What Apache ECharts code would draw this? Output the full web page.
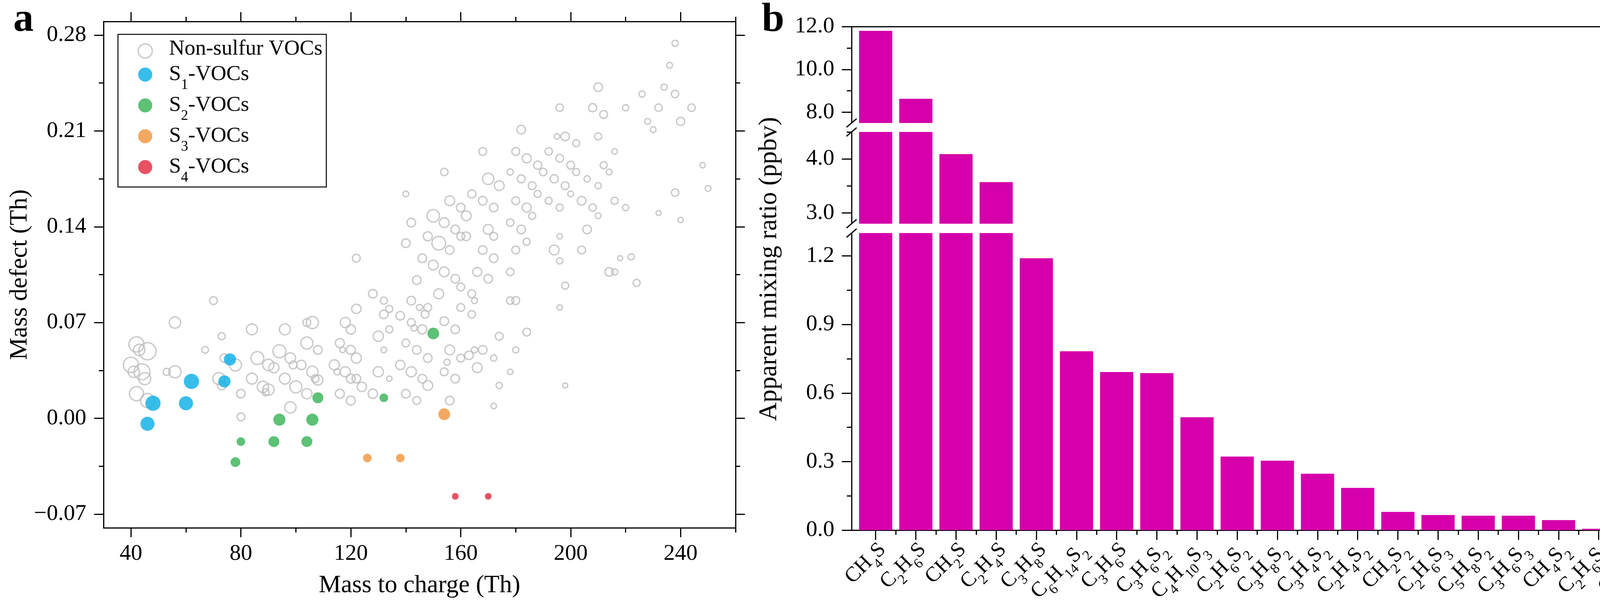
<!DOCTYPE html>
<html lang="en">
<head>
<meta charset="UTF-8">
<title>Sulfur VOCs</title>
<script src="https://cdn.jsdelivr.net/npm/echarts@6/dist/echarts.min.js"></script>
<style>
  html, body { margin: 0; padding: 0; background: #fff; }
  #main { width: 4276px; height: 1560px; }
</style>
</head>
<body>
<div id="main"></div>
<script>
// ---- panel a: [mass to charge, mass defect, relative signal size]
const nonSulfur = [
  [70, 0.086, 2.0], [56, 0.070, 2.9], [73, 0.060, 1.8], [42, 0.054, 3.9], [43, 0.050, 2.9],
  [46, 0.049, 4.4], [67, 0.050, 1.7], [40, 0.039, 3.9], [41, 0.034, 2.9], [44, 0.034, 4.1],
  [45, 0.029, 3.1], [53, 0.034, 1.8], [56, 0.034, 3.1], [74, 0.044, 2.2], [78, 0.039, 3.1],
  [72, 0.029, 3.1], [73, 0.024, 2.2], [42, 0.018, 3.6], [46, 0.013, 3.6], [80, 0.018, 2.2],
  [80, 0.001, 2.0], [84, 0.065, 2.8], [96, 0.065, 2.8], [104, 0.070, 2.0], [106, 0.070, 3.1],
  [94, 0.049, 3.3], [86, 0.044, 3.3], [98, 0.044, 2.7], [90, 0.039, 2.9], [92, 0.037, 2.6],
  [99, 0.039, 2.0], [102, 0.039, 2.4], [104, 0.055, 3.1], [108, 0.050, 2.2], [84, 0.029, 2.8],
  [96, 0.029, 2.8], [88, 0.023, 2.9], [90, 0.021, 2.9], [89, 0.019, 1.8], [100, 0.023, 3.1],
  [106, 0.034, 2.9], [107, 0.029, 2.0], [108, 0.028, 2.6], [104, 0.018, 2.6], [98, 0.008, 2.9],
  [118, 0.070, 2.6], [120, 0.065, 2.4], [122, 0.080, 2.4], [132, 0.086, 1.8], [134, 0.080, 1.8],
  [132, 0.076, 2.2], [138, 0.075, 2.2], [142, 0.070, 2.0], [130, 0.060, 2.6], [134, 0.065, 1.8],
  [116, 0.055, 2.3], [117, 0.050, 1.4], [120, 0.050, 2.3], [122, 0.044, 2.6], [132, 0.050, 1.5],
  [140, 0.055, 2.0], [114, 0.039, 2.6], [115, 0.034, 1.6], [118, 0.034, 2.6], [120, 0.029, 2.3],
  [122, 0.029, 2.2], [124, 0.023, 2.4], [116, 0.018, 2.3], [120, 0.013, 2.3], [128, 0.018, 2.4],
  [130, 0.034, 2.6], [138, 0.039, 2.4], [134, 0.029, 1.4], [142, 0.034, 2.6], [140, 0.018, 2.2],
  [140, 0.164, 1.5], [142, 0.143, 2.2], [140, 0.128, 2.2], [122, 0.117, 2.0], [128, 0.091, 2.2],
  [238, 0.274, 1.6], [236, 0.258, 1.5], [210, 0.242, 2.2], [226, 0.237, 1.6], [234, 0.242, 1.6],
  [238, 0.237, 1.9], [196, 0.227, 1.9], [208, 0.227, 2.1], [212, 0.222, 2.0], [220, 0.227, 1.6],
  [232, 0.227, 1.9], [244, 0.227, 1.9], [228, 0.217, 1.5], [230, 0.211, 1.5], [240, 0.217, 2.1],
  [182, 0.211, 2.2], [195, 0.206, 1.4], [198, 0.206, 2.2], [202, 0.201, 1.8], [210, 0.206, 1.8],
  [168, 0.195, 2.0], [180, 0.195, 2.0], [184, 0.190, 2.3], [192, 0.195, 1.9], [196, 0.190, 2.0],
  [216, 0.195, 1.4], [188, 0.185, 2.1], [200, 0.185, 2.0], [212, 0.185, 1.8], [190, 0.180, 1.9],
  [202, 0.180, 1.8], [214, 0.180, 1.5], [248, 0.185, 1.4], [154, 0.180, 1.9], [178, 0.180, 1.6],
  [170, 0.175, 2.9], [174, 0.170, 2.5], [182, 0.175, 2.0], [194, 0.175, 2.1], [206, 0.175, 1.6],
  [186, 0.170, 2.0], [198, 0.170, 2.0], [210, 0.170, 1.6], [250, 0.168, 1.5], [164, 0.164, 2.1],
  [188, 0.164, 1.8], [200, 0.164, 1.5], [238, 0.165, 1.9], [156, 0.159, 2.5], [168, 0.159, 2.2],
  [180, 0.159, 2.0], [192, 0.159, 1.8], [204, 0.159, 2.2], [216, 0.159, 1.8], [160, 0.154, 2.2],
  [172, 0.154, 2.2], [184, 0.154, 2.3], [196, 0.154, 1.8], [208, 0.154, 1.9], [220, 0.154, 1.6],
  [232, 0.150, 1.3], [150, 0.148, 3.2], [162, 0.148, 2.5], [186, 0.148, 1.8], [210, 0.148, 1.5],
  [240, 0.145, 1.4], [154, 0.143, 2.5], [178, 0.143, 1.9], [158, 0.138, 2.2], [170, 0.138, 2.5],
  [182, 0.138, 2.2], [206, 0.138, 2.2], [148, 0.133, 2.3], [160, 0.133, 2.0], [162, 0.133, 2.2],
  [172, 0.133, 2.0], [196, 0.133, 1.4], [152, 0.128, 3.5], [184, 0.129, 1.8], [156, 0.123, 2.2],
  [168, 0.123, 2.2], [180, 0.123, 2.0], [194, 0.123, 2.5], [204, 0.123, 2.0], [146, 0.117, 2.2],
  [172, 0.117, 2.2], [218, 0.117, 1.3], [222, 0.118, 1.6], [150, 0.112, 2.5], [154, 0.107, 2.5],
  [166, 0.107, 2.3], [178, 0.107, 1.9], [196, 0.115, 1.6], [214, 0.107, 2.2], [216, 0.107, 1.6],
  [144, 0.101, 2.2], [158, 0.102, 2.2], [160, 0.096, 2.0], [170, 0.102, 2.2], [198, 0.097, 1.8],
  [224, 0.099, 1.8], [152, 0.091, 2.5], [164, 0.091, 2.0], [165, 0.086, 1.5], [142, 0.086, 2.2],
  [178, 0.086, 1.9], [180, 0.086, 2.0], [145, 0.081, 1.6], [148, 0.081, 2.0], [160, 0.081, 2.0],
  [196, 0.081, 1.4], [147, 0.076, 2.0], [164, 0.076, 1.9], [146, 0.065, 2.3], [143, 0.066, 1.6],
  [154, 0.071, 2.2], [158, 0.065, 2.2], [184, 0.063, 2.0], [174, 0.060, 2.0], [144, 0.050, 2.2],
  [156, 0.050, 2.5], [148, 0.044, 2.2], [160, 0.044, 2.0], [163, 0.046, 2.2], [165, 0.050, 1.6],
  [168, 0.050, 2.2], [172, 0.044, 1.6], [180, 0.050, 1.6], [155, 0.041, 1.6], [166, 0.037, 2.5],
  [154, 0.034, 2.0], [146, 0.029, 2.2], [158, 0.029, 2.2], [178, 0.034, 1.4], [148, 0.024, 2.5],
  [174, 0.024, 1.6], [198, 0.024, 1.3], [144, 0.013, 2.0], [156, 0.013, 2.2], [172, 0.009, 1.4]
];
const s1Vocs = [[76, 0.043, 3.1], [62, 0.027, 3.9], [74, 0.027, 3.1], [48, 0.011, 3.9], [60, 0.011, 3.6], [46, -0.004, 3.6]];
const s2Vocs = [[108, 0.015, 2.8], [132, 0.015, 2.2], [94, -0.001, 3.1], [106, -0.001, 3.1], [80, -0.017, 2.2],
  [92, -0.017, 2.8], [104, -0.017, 2.8], [78, -0.032, 2.5], [150, 0.062, 3.0]];
const s3Vocs = [[126, -0.029, 2.2], [138, -0.029, 2.2], [154, 0.003, 3.0]];
const s4Vocs = [[158, -0.057, 1.7], [170, -0.057, 1.7]];

const massTicks = [40, 80, 120, 160, 200, 240];
const massMinor = [60, 100, 140, 180, 220, 260];
const defectTicks = [-0.07, 0, 0.07, 0.14, 0.21, 0.28];
const defectMinor = [-0.035, 0.035, 0.105, 0.175, 0.245];

// ---- panel b
const species = ['CH4S', 'C2H6S', 'CH2S', 'C2H4S', 'C3H8S', 'C6H14S2', 'C3H6S', 'C3H6S2', 'C4H10S3', 'C2H6S2',
  'C3H8S2', 'C3H4S2', 'C2H4S2', 'CH2S2', 'C2H6S3', 'C5H8S2', 'C3H6S3', 'CH4S2', 'C2H6S4', 'C3H6S4'];
const mixingRatio = [11.8, 8.63, 4.09, 3.57, 1.19, 0.783, 0.692, 0.687, 0.494, 0.322,
  0.304, 0.247, 0.185, 0.080, 0.066, 0.063, 0.063, 0.044, 0.006, 0.004];
const topTicks = [8, 10, 12], topMinor = [9, 11];
const midTicks = [3, 4], midMinor = [3.5, 4.5];
const lowTicks = [0, 0.3, 0.6, 0.9, 1.2], lowMinor = [0.15, 0.45, 0.75, 1.05];

const FONT = 'Liberation Serif, Times New Roman, serif';
const ink = '#000';
const SIZE_PX = 10;

// layout
const A = {left: 265, top: 55, width: 1618, height: 1297};
const B_LEFT = 2180, B_RIGHT = 4247;
const segs = [{top: 68, bottom: 315}, {top: 338, bottom: 573}, {top: 597, bottom: 1358}];

const richLegend = {
  n: {fontSize: 55, lineHeight: 56, fontFamily: FONT, color: ink, padding: [0, 0, 10, 0]},
  m: {fontSize: 55, lineHeight: 56, fontFamily: FONT, color: ink, verticalAlign: 'middle'},
  s: {fontSize: 37, lineHeight: 36, fontFamily: FONT, color: ink, verticalAlign: 'top', padding: [37, 0, 5, 0]},
  g: {width: 38}
};
const richAxis = {
  m: {fontSize: 54, lineHeight: 50, fontFamily: FONT, color: ink, verticalAlign: 'middle'},
  s: {fontSize: 36, lineHeight: 30, fontFamily: FONT, color: ink, verticalAlign: 'top', padding: [32, 0, 2, 0]}
};
function chem(t) {
  return t.replace(/(\D+)|(\d+)/g, (all, a, d) => a ? '{m|' + a + '}' : '{s|' + d + '}');
}

function axis(o) {
  return {
    type: 'value', gridIndex: o.grid, position: o.pos, min: o.min, max: o.max, show: o.show !== false,
    axisLine: {show: !!o.line, onZero: false, lineStyle: {color: ink, width: 3}},
    axisTick: {show: !!o.ticks, customValues: o.ticks, length: o.len, inside: false, lineStyle: {color: ink, width: 3}},
    axisLabel: o.fmt ? Object.assign({show: true, customValues: o.ticks, formatter: o.fmt, margin: o.margin,
      showMinLabel: true, showMaxLabel: true, hideOverlap: false,
      fontSize: 58, fontFamily: FONT, color: ink}, o.label || {}) : {show: false},
    splitLine: {show: false},
    name: o.name, nameLocation: 'middle', nameGap: o.nameGap,
    nameTextStyle: {fontSize: 64, fontFamily: FONT, color: ink}
  };
}

const fmtDefect = v => (v < 0 ? '\u2212' : '') + Math.abs(v).toFixed(2);
const fmtRatio = v => v.toFixed(1);
const XB = {min: -0.6, max: 19.5};

const xAxes = [
  axis({grid: 0, pos: 'bottom', min: 30, max: 260, line: true, ticks: massTicks, len: 24, fmt: v => String(v),
    margin: 38, name: 'Mass to charge (Th)', nameGap: 116}),
  axis({grid: 0, pos: 'bottom', min: 30, max: 260, ticks: massMinor, len: 12}),
  axis({grid: 0, pos: 'top', min: 30, max: 260, line: true, ticks: massTicks, len: 24}),
  axis({grid: 0, pos: 'top', min: 30, max: 260, ticks: massMinor, len: 12}),
  axis({grid: 1, pos: 'top', min: XB.min, max: XB.max, line: true}),
  axis({grid: 2, pos: 'bottom', min: XB.min, max: XB.max, show: false}),
  axis({grid: 3, pos: 'bottom', min: XB.min, max: XB.max, line: true, ticks: species.map((s, i) => i), len: 25,
    fmt: v => chem(species[Math.round(v)]), margin: 24, label: {rotate: 45, verticalAlign: 'top', rich: richAxis}}),
  axis({grid: 3, pos: 'bottom', min: XB.min, max: XB.max, ticks: species.slice(1).map((s, i) => i + 0.5), len: 12})
];

const yAxes = [
  axis({grid: 0, pos: 'left', min: -0.08, max: 0.29, line: true, ticks: defectTicks, len: 24, fmt: fmtDefect,
    margin: 44, name: 'Mass defect (Th)', nameGap: 182}),
  axis({grid: 0, pos: 'left', min: -0.08, max: 0.29, ticks: defectMinor, len: 12}),
  axis({grid: 0, pos: 'right', min: -0.08, max: 0.29, line: true, ticks: defectTicks, len: 24}),
  axis({grid: 0, pos: 'right', min: -0.08, max: 0.29, ticks: defectMinor, len: 12}),
  axis({grid: 1, pos: 'left', min: 7.5, max: 12, line: true, ticks: topTicks, len: 25, fmt: fmtRatio, margin: 44}),
  axis({grid: 1, pos: 'left', min: 7.5, max: 12, ticks: topMinor, len: 12}),
  axis({grid: 1, pos: 'right', min: 7.5, max: 12, line: true}),
  axis({grid: 2, pos: 'left', min: 2.8, max: 4.5, line: true, ticks: midTicks, len: 25, fmt: fmtRatio, margin: 44}),
  axis({grid: 2, pos: 'left', min: 2.8, max: 4.5, ticks: midMinor, len: 12}),
  axis({grid: 2, pos: 'right', min: 2.8, max: 4.5, line: true}),
  axis({grid: 3, pos: 'left', min: 0, max: 1.3, line: true, ticks: lowTicks, len: 25, fmt: fmtRatio, margin: 44}),
  axis({grid: 3, pos: 'left', min: 0, max: 1.3, ticks: lowMinor, len: 12}),
  axis({grid: 3, pos: 'right', min: 0, max: 1.3, line: true})
];

const grids = [
  {left: A.left, top: A.top, width: A.width, height: A.height, outerBoundsMode: 'none'}
].concat(segs.map(s => ({left: B_LEFT, width: B_RIGHT - B_LEFT, top: s.top, height: s.bottom - s.top, outerBoundsMode: 'none'})));

const groups = [
  {name: 'Non-sulfur VOCs', data: nonSulfur, style: {color: 'rgba(0,0,0,0)', borderColor: '#bdbdbd', borderWidth: 3.5}},
  {name: 'S1-VOCs', data: s1Vocs, style: {color: '#05aee6'}},
  {name: 'S2-VOCs', data: s2Vocs, style: {color: '#34b154'}},
  {name: 'S3-VOCs', data: s3Vocs, style: {color: '#f0923a'}},
  {name: 'S4-VOCs', data: s4Vocs, style: {color: '#e2263c'}}
];

const series = groups.map(g => ({
  name: g.name, type: 'scatter', xAxisIndex: 0, yAxisIndex: 0, data: g.data,
  symbol: 'circle', symbolSize: v => v[2] * SIZE_PX, itemStyle: g.style,
  emphasis: {disabled: true}, silent: true
}));
// the same bars in each of the three y-ranges of the broken axis
[[4, 4], [5, 7], [6, 10]].forEach((p, k) => {
  series.push({
    name: 'ratio' + k, type: 'bar', xAxisIndex: p[0], yAxisIndex: p[1], clip: true,
    data: mixingRatio.map((v, i) => [i, v]), barWidth: 85,
    itemStyle: {color: '#d500aa'}, emphasis: {disabled: true}, silent: true
  });
});

// break marks on both sides of the broken axis
const graphics = [];
[B_LEFT, B_RIGHT].forEach(x => {
  [segs[0].bottom, segs[1].top, segs[1].bottom, segs[2].top].forEach(y => {
    graphics.push({type: 'line', z: 10, shape: {x1: x - 13, y1: y + 11, x2: x + 13, y2: y - 11},
      style: {stroke: ink, lineWidth: 3}});
  });
});
graphics.push(
  {type: 'text', x: 34, y: 52, style: {text: 'a', font: 'bold 104px ' + FONT, fill: ink, verticalAlign: 'middle'}},
  {type: 'text', x: 1950, y: 52, style: {text: 'b', font: 'bold 104px ' + FONT, fill: ink, verticalAlign: 'middle'}},
  {type: 'text', x: 1970, y: 689, rotation: Math.PI / 2,
    style: {text: 'Apparent mixing ratio (ppbv)', font: '66px ' + FONT, fill: ink, align: 'center', verticalAlign: 'middle'}}
);

const chart = echarts.init(document.getElementById('main'));
chart.setOption({
  animation: false,
  backgroundColor: '#fff',
  grid: grids, xAxis: xAxes, yAxis: yAxes,
  legend: {
    orient: 'vertical', left: 302, top: 88, selectedMode: false,
    padding: [10, 10, 0, 50], itemGap: 0, itemWidth: 36, itemHeight: 36,
    borderColor: ink, borderWidth: 2.5,
    data: groups.map(g => ({name: g.name, icon: 'circle', itemStyle: g.style})),
    formatter: n => /\d/.test(n) ? '{g| }' + chem(n) : '{g| }{n|' + n + '}',
    textStyle: {fontSize: 55, fontFamily: FONT, color: ink, rich: richLegend}
  },
  series: series,
  graphic: graphics
});
</script>
</body>
</html>
